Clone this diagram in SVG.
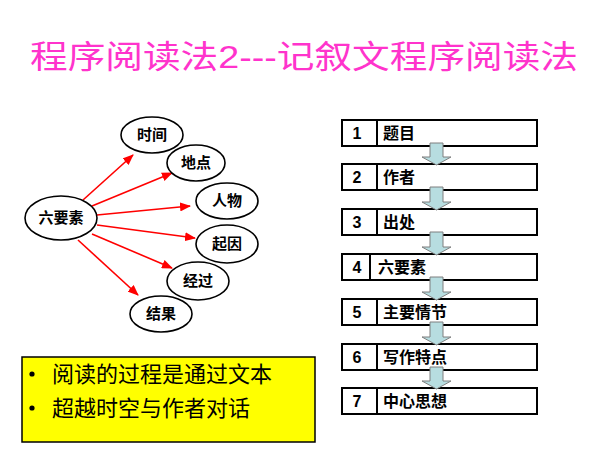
<svg xmlns="http://www.w3.org/2000/svg" width="600" height="450" viewBox="0 0 600 450">
<defs>
<style>
.title{font-family:"Liberation Sans","Noto Sans CJK SC",sans-serif;font-size:32px;fill:#FF33CC}
.el{fill:#fff;stroke:#000;stroke-width:1.6}
.et{font-family:"Liberation Sans","Noto Sans CJK SC",sans-serif;font-size:15px;font-weight:bold;fill:#000;text-anchor:middle}
.conn{stroke:#FF0000;stroke-width:1.6;fill:none;marker-end:url(#ah)}
.box{fill:#fff;stroke:#000;stroke-width:2}
.num{font-family:"Liberation Sans","Noto Sans CJK SC",sans-serif;font-size:16px;font-weight:bold;fill:#000;text-anchor:middle}
.lab{font-family:"Liberation Sans","Noto Sans CJK SC",sans-serif;font-size:16px;font-weight:bold;fill:#000}
.blk{fill:#B7DDE0;stroke:#7F7F7F;stroke-width:1}
.note{font-family:"Liberation Serif","Noto Sans CJK SC",serif;font-size:22px;fill:#000}
</style>
<marker id="ah" markerWidth="11" markerHeight="9" refX="10" refY="4.5" orient="auto" markerUnits="userSpaceOnUse">
<path d="M0,0 L11,4.5 L0,9 Z" fill="#FF0000"/>
</marker>
</defs>
<rect width="600" height="450" fill="#fff"/>
<text class="title" x="30" y="68" textLength="548" lengthAdjust="spacingAndGlyphs">程序阅读法2---记叙文程序阅读法</text>

<g id="connectors">
<line class="conn" x1="83" y1="200" x2="133" y2="155"/>
<line class="conn" x1="92" y1="206" x2="172" y2="173"/>
<line class="conn" x1="97" y1="215" x2="190" y2="206"/>
<line class="conn" x1="97" y1="225" x2="195" y2="238"/>
<line class="conn" x1="92" y1="234" x2="172" y2="268"/>
<line class="conn" x1="78" y1="240" x2="138" y2="295"/>
</g>

<g id="n-liuyaosu"><ellipse class="el" cx="61" cy="218" rx="36" ry="22"/><text class="et" x="61" y="223">六要素</text></g>
<g id="n-shijian"><ellipse class="el" cx="152" cy="135" rx="31" ry="18"/><text class="et" x="152" y="140">时间</text></g>
<g id="n-didian"><ellipse class="el" cx="196" cy="163" rx="29" ry="18"/><text class="et" x="196" y="168">地点</text></g>
<g id="n-renwu"><ellipse class="el" cx="227" cy="201" rx="31" ry="18"/><text class="et" x="227" y="206">人物</text></g>
<g id="n-qiyin"><ellipse class="el" cx="227" cy="244" rx="31" ry="19"/><text class="et" x="227" y="249">起因</text></g>
<g id="n-jingguo"><ellipse class="el" cx="198" cy="281" rx="31" ry="19"/><text class="et" x="198" y="286">经过</text></g>
<g id="n-jieguo"><ellipse class="el" cx="161" cy="314" rx="31" ry="18"/><text class="et" x="161" y="319">结果</text></g>

<g id="s1"><rect class="box" x="342" y="120" width="195" height="26"/><line x1="377" y1="120" x2="377" y2="146" stroke="#000" stroke-width="2"/><text class="num" x="357" y="139">1</text><text class="lab" x="383" y="139">题目</text></g>
<g id="s2"><rect class="box" x="342" y="164" width="195" height="26"/><line x1="377" y1="164" x2="377" y2="190" stroke="#000" stroke-width="2"/><text class="num" x="357" y="183">2</text><text class="lab" x="383" y="183">作者</text></g>
<g id="s3"><rect class="box" x="342" y="209" width="195" height="26"/><line x1="377" y1="209" x2="377" y2="235" stroke="#000" stroke-width="2"/><text class="num" x="357" y="228">3</text><text class="lab" x="383" y="228">出处</text></g>
<g id="s4"><rect class="box" x="342" y="254" width="195" height="26"/><line x1="370" y1="254" x2="370" y2="280" stroke="#000" stroke-width="2"/><text class="num" x="357" y="273">4</text><text class="lab" x="378" y="273">六要素</text></g>
<g id="s5"><rect class="box" x="342" y="299" width="195" height="26"/><line x1="377" y1="299" x2="377" y2="325" stroke="#000" stroke-width="2"/><text class="num" x="357" y="318">5</text><text class="lab" x="383" y="318">主要情节</text></g>
<g id="s6"><rect class="box" x="342" y="344" width="195" height="26"/><line x1="377" y1="344" x2="377" y2="370" stroke="#000" stroke-width="2"/><text class="num" x="357" y="363">6</text><text class="lab" x="383" y="363">写作特点</text></g>
<g id="s7"><rect class="box" x="342" y="388" width="195" height="26"/><line x1="377" y1="388" x2="377" y2="414" stroke="#000" stroke-width="2"/><text class="num" x="357" y="407">7</text><text class="lab" x="383" y="407">中心思想</text></g>

<g id="flow-arrows">
<path class="blk" d="M430,143 H443 V157 H451 L436.5,165 L422,157 H430 Z"/>
<path class="blk" d="M430,187 H443 V202 H451 L436.5,210 L422,202 H430 Z"/>
<path class="blk" d="M430,232 H443 V247 H451 L436.5,255 L422,247 H430 Z"/>
<path class="blk" d="M430,277 H443 V292 H451 L436.5,300 L422,292 H430 Z"/>
<path class="blk" d="M430,322 H443 V337 H451 L436.5,345 L422,337 H430 Z"/>
<path class="blk" d="M430,367 H443 V381 H451 L436.5,389 L422,381 H430 Z"/>
</g>

<g id="note">
<rect x="22" y="357" width="293" height="85" fill="#FFFF00" stroke="#000" stroke-width="1.5"/>
<circle cx="32" cy="374" r="2.6" fill="#000"/>
<circle cx="32" cy="408" r="2.6" fill="#000"/>
<text class="note" x="52" y="382">阅读的过程是通过文本</text>
<text class="note" x="52" y="416">超越时空与作者对话</text>
</g>
</svg>
